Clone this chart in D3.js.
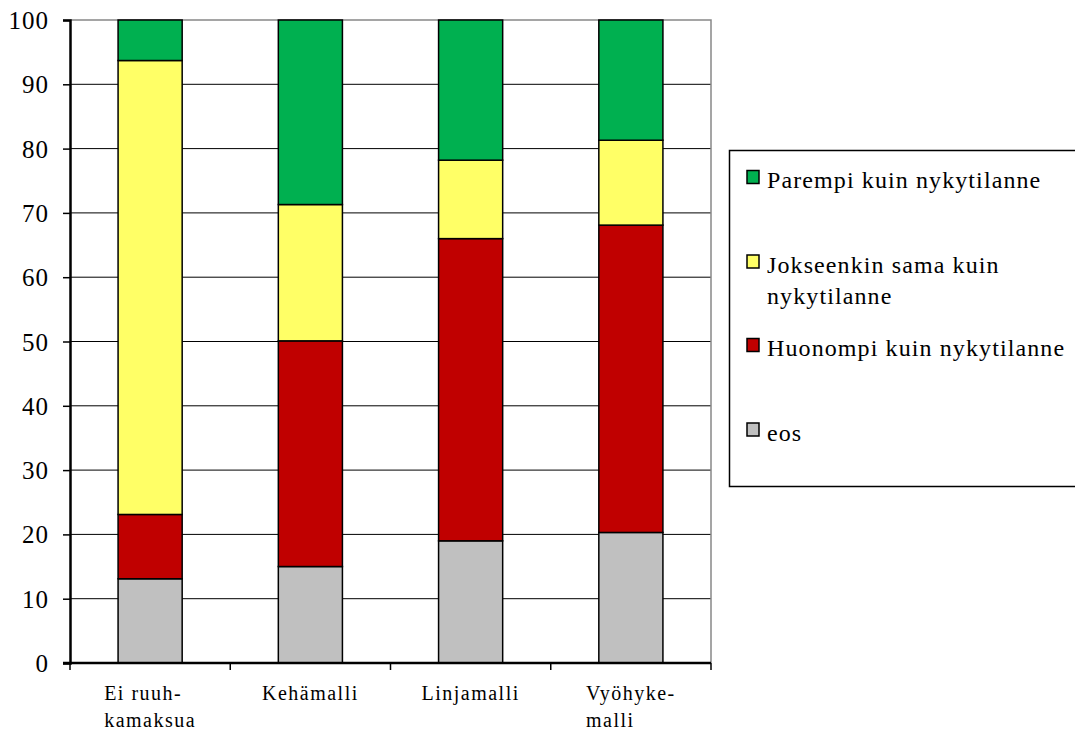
<!DOCTYPE html>
<html>
<head>
<meta charset="utf-8">
<script src="https://cdn.jsdelivr.net/npm/d3@7"></script>
<style>
  body { margin: 0; background: #fff; }
  svg { display: block; }
  svg text { font-family: "Liberation Serif", serif; }
</style>
</head>
<body>
<svg id="chart" width="1075" height="731"></svg>
<script>
// categories (label lines)
var categories = ["Ei ruuh-kamaksua", "Kehämalli", "Linjamalli", "Vyöhyke-malli"];
var categoryLines = [["Ei ruuh-", "kamaksua"], ["Kehämalli"], ["Linjamalli"], ["Vyöhyke-", "malli"]];

// series, bottom to top
var eos = [13.1, 15.0, 19.0, 20.3];
var huonompi = [10.0, 35.1, 47.0, 47.8];
var jokseenkin = [70.6, 21.2, 12.2, 13.2];
var parempi = [6.3, 28.7, 21.8, 18.7];

var seriesNames = ["eos", "Huonompi kuin nykytilanne", "Jokseenkin sama kuin nykytilanne", "Parempi kuin nykytilanne"];
var seriesColors = ["#c0c0c0", "#c00000", "#ffff66", "#00b050"];
var yTicks = [0, 10, 20, 30, 40, 50, 60, 70, 80, 90, 100];

var svg = d3.select("#chart");
var plotLeft = 70, plotRight = 711, plotTop = 20, plotBottom = 663;
var serif = "'Liberation Serif', serif";

var x = d3.scaleBand().domain(categories).range([plotLeft, plotRight]).paddingInner(0.6).paddingOuter(0.3);
var xEdge = d3.scaleLinear().domain([0, categories.length]).range([plotLeft, plotRight]);
var y = d3.scaleLinear().domain([0, 100]).range([plotBottom, plotTop]);

// gridlines
svg.append("g").selectAll("line")
    .data(yTicks.filter(function (d) { return d > 0 && d < 100; }))
    .enter().append("line")
    .attr("x1", plotLeft).attr("x2", plotRight)
    .attr("y1", function (d) { return y(d); }).attr("y2", function (d) { return y(d); })
    .attr("stroke", "#000").attr("stroke-width", 1);

// plot border top & right
svg.append("path")
    .attr("d", "M" + plotLeft + "," + plotTop + "H" + plotRight + "V" + plotBottom)
    .attr("fill", "none").attr("stroke", "#888").attr("stroke-width", 1.5);

// stacked bars
var rows = categories.map(function (c, i) {
    return { cat: c, eos: eos[i], huonompi: huonompi[i], jokseenkin: jokseenkin[i], parempi: parempi[i] };
});
var stack = d3.stack().keys(["eos", "huonompi", "jokseenkin", "parempi"]);
var layers = stack(rows);

svg.append("g").selectAll("g")
    .data(layers)
    .enter().append("g")
    .attr("fill", function (d, i) { return seriesColors[i]; })
    .selectAll("rect")
    .data(function (d) { return d; })
    .enter().append("rect")
    .attr("x", function (d) { return x(d.data.cat); })
    .attr("width", x.bandwidth())
    .attr("y", function (d) { return y(Math.min(d[1], 100)); })
    .attr("height", function (d) { return y(d[0]) - y(Math.min(d[1], 100)); })
    .attr("stroke", "#000").attr("stroke-width", 1.5);

// y axis
var yAxis = svg.append("g")
    .attr("transform", "translate(" + plotLeft + ",0)")
    .call(d3.axisLeft(y).tickValues(yTicks).tickSize(7).tickPadding(14));
yAxis.attr("font-family", null);
yAxis.select(".domain").attr("stroke", "#000").attr("stroke-width", 2.5);
yAxis.selectAll(".tick line").attr("stroke", "#000").attr("stroke-width", 1.5);
yAxis.selectAll(".tick text")
    .style("font-family", serif)
    .attr("font-size", 25).attr("letter-spacing", 1)
    .attr("fill", "#000").attr("dy", "0.34em");

// x axis line and boundary ticks
svg.append("line")
    .attr("x1", plotLeft - 7).attr("x2", plotRight)
    .attr("y1", plotBottom).attr("y2", plotBottom)
    .attr("stroke", "#000").attr("stroke-width", 2.5);
svg.append("g").selectAll("line")
    .data(d3.range(categories.length + 1))
    .enter().append("line")
    .attr("x1", function (d) { return xEdge(d); }).attr("x2", function (d) { return xEdge(d); })
    .attr("y1", plotBottom).attr("y2", plotBottom + 7)
    .attr("stroke", "#000").attr("stroke-width", 1.5);

// category labels: lines left-aligned in a block centred under the bar
var labels = svg.append("g").selectAll("text")
    .data(categories)
    .enter().append("text")
    .style("font-family", serif)
    .attr("font-size", 20).attr("letter-spacing", 1.5).attr("fill", "#000");
labels.each(function (c, i) {
    var t = d3.select(this);
    categoryLines[i].forEach(function (line, j) {
        t.append("tspan").attr("y", 700 + j * 27).text(line);
    });
    var w = 0;
    t.selectAll("tspan").each(function () { w = Math.max(w, this.getComputedTextLength()); });
    t.selectAll("tspan").attr("x", x(c) + x.bandwidth() / 2 - w / 2);
});

// legend
svg.append("rect")
    .attr("x", 729.5).attr("y", 150.5).attr("width", 360).attr("height", 336)
    .attr("fill", "#fff").attr("stroke", "#000").attr("stroke-width", 1.5);

var legendOrder = [3, 2, 1, 0];
var legendY = [177, 261.5, 345, 429.5];
var legendText = [["Parempi kuin nykytilanne"], ["Jokseenkin sama kuin", "nykytilanne"], ["Huonompi kuin nykytilanne"], ["eos"]];
var leg = svg.append("g").selectAll("g")
    .data(legendOrder)
    .enter().append("g")
    .attr("transform", function (d, i) { return "translate(0," + legendY[i] + ")"; });
leg.append("rect")
    .attr("x", 747).attr("y", -6.5).attr("width", 12).attr("height", 13)
    .attr("fill", function (d) { return seriesColors[d]; })
    .attr("stroke", "#000").attr("stroke-width", 1.5);
leg.append("text")
    .style("font-family", serif)
    .attr("font-size", 24).attr("letter-spacing", 1.1).attr("fill", "#000")
    .each(function (d, i) {
        var t = d3.select(this);
        legendText[i].forEach(function (line, j) {
            t.append("tspan").attr("x", 767).attr("y", 11 + j * 31.5).text(line);
        });
    });
</script>
</body>
</html>
